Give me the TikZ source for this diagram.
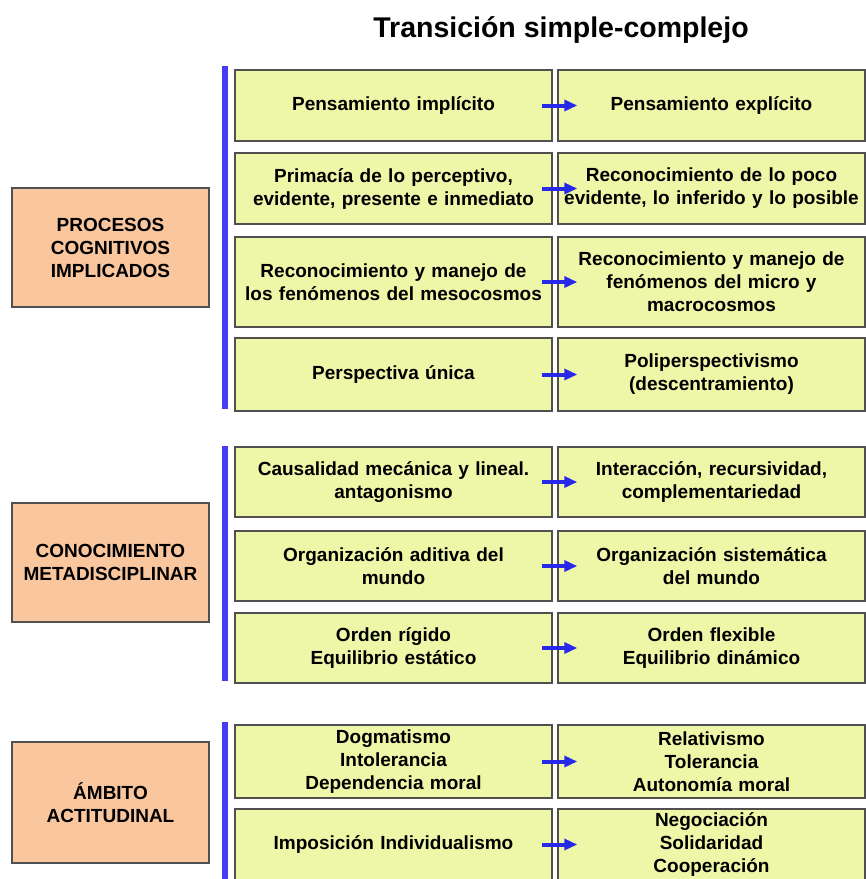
\documentclass[tikz,border=0pt]{standalone}
\usepackage{fontspec}
\setmainfont{Liberation Sans}
\usetikzlibrary{arrows.meta}

\definecolor{boxgreen}{RGB}{238,247,168}
\definecolor{boxorange}{RGB}{250,198,158}
\definecolor{edgegray}{RGB}{80,80,80}
\definecolor{barblue}{RGB}{70,60,240}
\definecolor{arrowblue}{RGB}{40,40,235}

\newcommand{\cellfont}{\fontsize{19}{23}\selectfont\bfseries}

\tikzset{
  cell/.style={draw=edgegray, line width=1.4pt, fill=boxgreen, inner sep=0pt,
               align=center, font=\cellfont},
  lcell/.style={cell, minimum width=317pt, text width=313pt},
  rcell/.style={cell, minimum width=307pt, text width=303pt},
  topic/.style={draw=edgegray, line width=1.4pt, fill=boxorange, inner sep=0pt,
                minimum width=197pt, text width=193pt, align=center, font=\cellfont},
  bar/.style={draw=barblue, line width=6pt},
  link/.style={draw=arrowblue, line width=4pt,
               -{Triangle[length=13pt,width=11pt]}},
}

\begin{document}
\begin{tikzpicture}[x=1pt,y=-1pt]
  \useasboundingbox (0,0) rectangle (866,879);
  \fill[white] (0,0) rectangle (866,879);

  % heading
  \node[anchor=base, font=\fontsize{28.5}{32}\selectfont\bfseries] (title) at (561,37)
    {Transición simple-complejo};

  % categories
  \node[topic, minimum height=119pt] (t1) at (110.5,247.5) {PROCESOS\\COGNITIVOS\\IMPLICADOS};
  \node[topic, minimum height=119pt] (t2) at (110.5,562.5) {CONOCIMIENTO\\METADISCIPLINAR};
  \node[topic, minimum height=121pt] (t3) at (110.5,802.5) {ÁMBITO\\ACTITUDINAL};

  % cognitive processes
  \node[lcell, minimum height=71pt] (a1) at (393.5,105.5) {Pensamiento implícito};
  \node[rcell, minimum height=71pt] (b1) at (711.5,105.5) {Pensamiento explícito};
  \node[lcell, minimum height=71pt] (a2) at (393.5,188.5) {Primacía de lo perceptivo,\\evidente, presente e inmediato};
  \node[rcell, minimum height=71pt] (b2) at (711.5,188.5) {Reconocimiento de lo poco\\evidente, lo inferido y lo posible};
  \node[lcell, minimum height=90pt] (a3) at (393.5,282) {Reconocimiento y manejo de\\los fenómenos del mesocosmos};
  \node[rcell, minimum height=90pt] (b3) at (711.5,282) {Reconocimiento y manejo de\\fenómenos del micro y\\macrocosmos};
  \node[lcell, minimum height=73pt] (a4) at (393.5,374.5) {Perspectiva única};
  \node[rcell, minimum height=73pt] (b4) at (711.5,374.5) {Poliperspectivismo\\(descentramiento)};

  % metadisciplinary knowledge
  \node[lcell, minimum height=70pt] (a5) at (393.5,482) {Causalidad mecánica y lineal.\\antagonismo};
  \node[rcell, minimum height=70pt] (b5) at (711.5,482) {Interacción, recursividad,\\complementariedad};
  \node[lcell, minimum height=70pt] (a6) at (393.5,566) {Organización aditiva del\\mundo};
  \node[rcell, minimum height=70pt] (b6) at (711.5,566) {Organización sistemática\\del mundo};
  \node[lcell, minimum height=70pt] (a7) at (393.5,648) {Orden rígido\\Equilibrio estático};
  \node[rcell, minimum height=70pt] (b7) at (711.5,648) {Orden flexible\\Equilibrio dinámico};

  % attitudes
  \node[lcell, minimum height=73pt] (a8) at (393.5,761.5) {Dogmatismo\\Intolerancia\\Dependencia moral};
  \node[rcell, minimum height=73pt] (b8) at (711.5,761.5) {Relativismo\\Tolerancia\\Autonomía moral};
  \node[lcell, minimum height=71pt] (a9) at (393.5,844.5) {Imposición Individualismo};
  \node[rcell, minimum height=71pt] (b9) at (711.5,844.5) {Negociación\\Solidaridad\\Cooperación};

  % group bars
  \draw[bar] ([xshift=-9pt,yshift=3pt]a1.north west) -- ([xshift=-9pt,yshift=3pt]a4.south west);
  \draw[bar] ([xshift=-9pt]a5.north west) -- ([xshift=-9pt,yshift=3pt]a7.south west);
  \draw[bar] ([xshift=-9pt,yshift=2pt]a8.north west) -- ([xshift=-9pt]a9.south west);

  % transitions
  \foreach \i in {1,...,9}
    \draw[link] ([xshift=-11pt]a\i.east) -- ([xshift=20pt]b\i.west);
\end{tikzpicture}
\end{document}
